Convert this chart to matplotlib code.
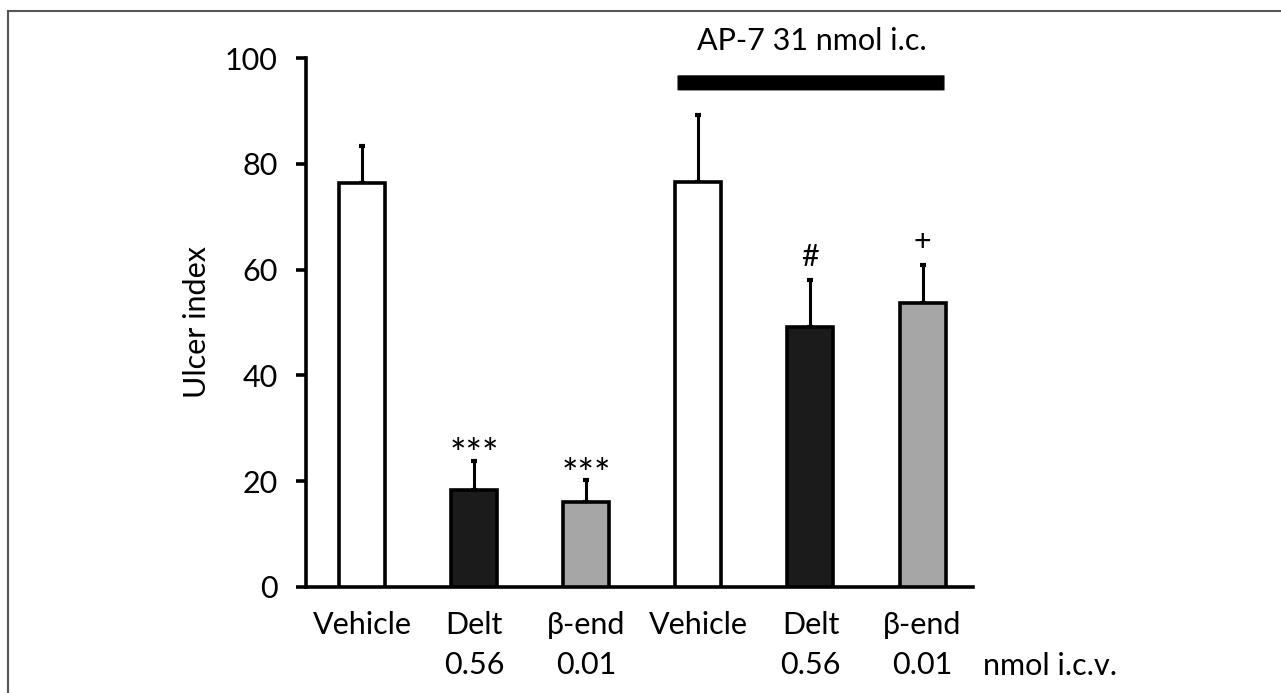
import matplotlib
matplotlib.use('Agg')
import matplotlib.pyplot as plt
from matplotlib.lines import Line2D
from matplotlib.patches import FancyBboxPatch
import numpy as np

plt.rcParams['font.family'] = ['Lato', 'DejaVu Sans']
plt.rcParams['font.size'] = 22

# data
groups = ['Vehicle', 'Delt\n0.56', '\u03b2-end\n0.01', 'Vehicle', 'Delt\n0.56', '\u03b2-end\n0.01']
ulcer_index = [76.3, 18.4, 16.1, 76.6, 49.1, 53.6]
sem = [7.1, 5.5, 4.1, 12.6, 9.0, 7.3]
bar_colors = ['white', '#1b1b1b', '#a6a6a6', 'white', '#1b1b1b', '#a6a6a6']
marks = ['', '***', '***', '', '#', '+']
ap7_label = 'AP-7 31 nmol i.c.'
dose_unit = 'nmol i.c.v.'

fig = plt.figure(figsize=(12.81, 6.93), dpi=100)
ax = fig.add_axes([306 / 1281, 1 - 587 / 693, 667 / 1281, 529 / 693])

x = np.arange(len(groups))
ax.bar(x, ulcer_index, width=0.41, color=bar_colors, edgecolor='black',
       linewidth=2.6, zorder=3)
ax.errorbar(x, ulcer_index, yerr=[np.zeros(len(sem)), sem], fmt='none',
            ecolor='black', elinewidth=2.2, capsize=2, capthick=3, zorder=2)

# significance marks above the error bars
for xi, yi, ei, m in zip(x, ulcer_index, sem, marks):
    if m == '':
        continue
    if m == '***':
        ax.text(xi, yi + ei - 2.6, m, ha='center', va='bottom', fontsize=28)
    else:
        ax.text(xi, yi + ei + 1.6, m, ha='center', va='bottom', fontsize=22)

# AP-7 treatment bar + label
ax.add_patch(FancyBboxPatch((2.82, 94.0), 2.37, 2.6,
                            boxstyle='round,pad=0,rounding_size=0.02',
                            facecolor='black', edgecolor='black',
                            linewidth=1, clip_on=False, zorder=4))
ax.text(4.01, 103.2, ap7_label, ha='center', va='center', fontsize=22,
        clip_on=False)

ax.set_xlim(-0.5, 5.45)
ax.set_ylim(0, 100)
ax.set_yticks([0, 20, 40, 60, 80, 100])
ax.set_xticks(x)
ax.set_xticklabels(groups, linespacing=1.55, va='top')
ax.set_ylabel('Ulcer index', fontsize=22)
ax.yaxis.set_label_coords(-0.142, 0.5)

for s in ['top', 'right']:
    ax.spines[s].set_visible(False)
for s in ['left', 'bottom']:
    ax.spines[s].set_linewidth(2.6)
ax.tick_params(axis='y', direction='out', length=7.5, width=2.6, pad=13,
               labelsize=22)
ax.tick_params(axis='x', length=0, pad=17, labelsize=22)

fig.text(983 / 1281, 1 - 666 / 693, dose_unit, ha='left', va='center',
         fontsize=22)

# outer frame (left and top edges only visible)
fig.add_artist(Line2D([8 / 1281, 8 / 1281], [0, 1 - 11 / 693],
                      transform=fig.transFigure, color='#555555', lw=1.5))
fig.add_artist(Line2D([8 / 1281, 1], [1 - 11 / 693, 1 - 11 / 693],
                      transform=fig.transFigure, color='#555555', lw=1.5))

fig.savefig('out.png', dpi=100)
